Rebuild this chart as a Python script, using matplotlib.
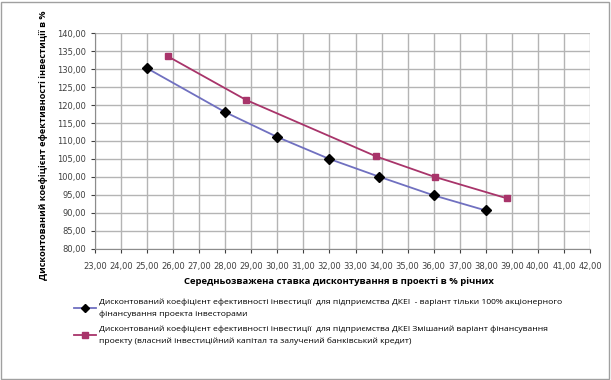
import matplotlib
matplotlib.use("Agg")
import matplotlib.pyplot as plt
from matplotlib.patches import Rectangle
from matplotlib.ticker import MultipleLocator, FuncFormatter

# Data
rate_equity = [25.0, 28.0, 30.0, 32.0, 33.9, 36.0, 38.0]
coef_equity = [130.2, 118.0, 111.1, 105.0, 100.1, 94.9, 90.7]

rate_mixed = [25.8, 28.8, 33.8, 36.05, 38.8]
coef_mixed = [133.5, 121.4, 105.7, 100.0, 94.1]

label_equity = ("Дисконтований коефіцієнт ефективності інвестиції  для підприємства ДКЕІ  - "
                "варіант тільки 100% акціонерного\nфінансування проекта інвесторами")
label_mixed = ("Дисконтований коефіцієнт ефективності інвестиції  для підприємства ДКЕІ "
               "Змішаний варіант фінансування\nпроекту (власний інвестиційний капітал та "
               "залучений банківський кредит)")
xlabel = "Середньозважена ставка дисконтування в проекті в % річних"
ylabel = "Дисконтований коефіцієнт ефективності інвестиції в %"

plt.rcParams["font.family"] = ["Open Sans", "DejaVu Sans"]

fig = plt.figure(figsize=(6.11, 3.80), dpi=100)
ax = fig.add_axes([95 / 611, 1 - 249 / 380, 495 / 611, 216 / 380])

ax.plot(rate_equity, coef_equity, color="#7070C0", lw=1.3, marker="D",
        markersize=5, markerfacecolor="black", markeredgecolor="black",
        label=label_equity, zorder=3)
ax.plot(rate_mixed, coef_mixed, color="#A8346A", lw=1.3, marker="s",
        markersize=5, markerfacecolor="#A8346A", markeredgecolor="#A8346A",
        label=label_mixed, zorder=3)

ax.set_xlim(23, 42)
ax.set_ylim(80, 140)
ax.xaxis.set_major_locator(MultipleLocator(1))
ax.yaxis.set_major_locator(MultipleLocator(5))
fmt = FuncFormatter(lambda v, _: f"{v:.2f}".replace(".", ","))
ax.xaxis.set_major_formatter(fmt)
ax.yaxis.set_major_formatter(fmt)
ax.tick_params(labelsize=6, colors="#404040", length=3, width=0.8,
               labelfontfamily="DejaVu Sans")
ax.tick_params(axis="x", pad=6)
ax.grid(True, color="#B4B4B4", lw=1)
ax.set_axisbelow(True)
for side in ["top", "right"]:
    ax.spines[side].set_visible(False)
for side in ["left", "bottom"]:
    ax.spines[side].set_color("#8C8C8C")

fig.text(339 / 611, 1 - 282 / 380, xlabel, ha="center", va="center",
         fontsize=6.8, fontweight="bold")
fig.text(44 / 611, 1 - 145 / 380, ylabel, ha="center", va="center",
         rotation=90, fontsize=6.6, fontweight="bold")

leg = fig.legend(loc="upper left", bbox_to_anchor=(66 / 611, 1 - 291 / 380),
                 frameon=False, fontsize=6.1, handlelength=2.6, handletextpad=0.4,
                 labelspacing=0.9, markerscale=0.8)
for t in leg.get_texts():
    t.set_linespacing(1.75)

fig.patches.append(Rectangle((1 / 611, 1 / 380), 1 - 3 / 611, 1 - 3 / 380,
                             transform=fig.transFigure, fill=False,
                             edgecolor="#A0A0A0", lw=1))

fig.savefig("out.png", dpi=100)
